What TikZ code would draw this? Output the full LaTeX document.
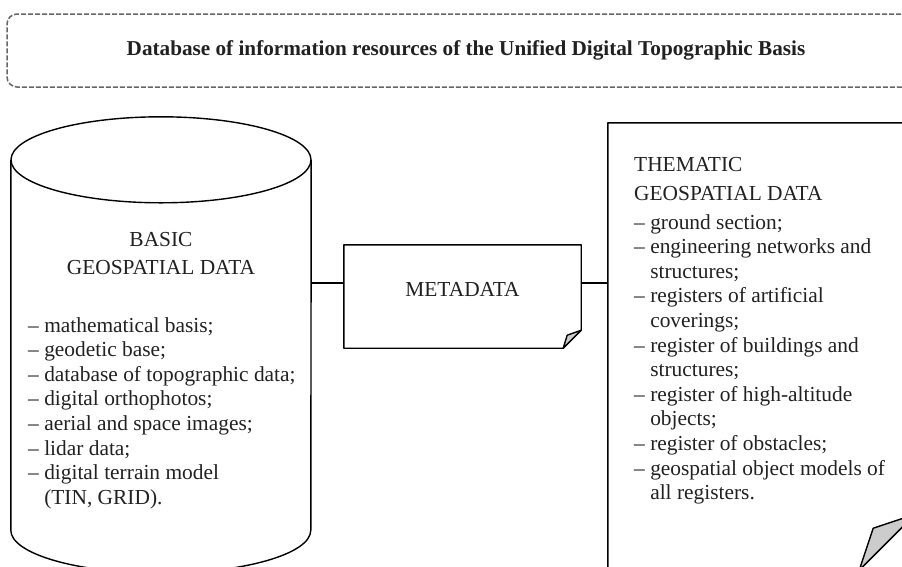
\documentclass[tikz,border=0pt]{standalone}
\usepackage{fontspec}
\setmainfont{Liberation Serif}

\definecolor{FoldColor}{rgb}{0.8,0.8,0.8}
\definecolor{InkColor}{rgb}{0.13,0.13,0.13}
\definecolor{FrameColor}{rgb}{0.4,0.4,0.4}
\tikzstyle{ts-text-base}=[text=InkColor,
                          inner sep=0pt,
                          font=\fontsize{21.4}{24.6}\selectfont
                         ]
\tikzstyle{store-head}=[ts-text-base,
                        font=\fontsize{21.4}{28.5}\selectfont]
\tikzstyle{store-list}=[ts-text-base,
                        align=left,
                        anchor=north west]
\tikzstyle{store-body}=[rectangle, inner sep=0pt]
\tikzstyle{link}=[line width=1.4pt, line join=round]
\tikzstyle{fold}=[link, fill=FoldColor]
\tikzstyle{title-frame}=[rectangle,
                         draw=FrameColor,
                         dash pattern=on 5pt off 2pt,
                         line width=1.5pt,
                         rounded corners=10pt,
                         text=InkColor,
                         font=\bfseries\fontsize{21.2}{24}\selectfont,
                         minimum width=918pt,
                         minimum height=73pt]

\newcommand{\itemcont}{\hphantom{– }}

\begin{document}
\begin{tikzpicture}[x=1pt, y=1pt]
\path[use as bounding box, clip] (0,0) rectangle (902,-566);

\node at (466,-50.5) (title) [title-frame] {Database of information resources of the Unified Digital Topographic Basis};

% basic data store (cylinder)
\node at (161,-345) (basic) [store-body, minimum width=300pt, minimum height=370pt] {};
\draw[link] (basic.north west) -- (basic.south west)
    arc[start angle=180, end angle=360, x radius=150, y radius=43] -- (basic.north east);
\draw[link, fill=white] (basic.north) ellipse [x radius=150, y radius=43];
\node at (161,-253.5) (basichead) [store-head, align=center] {BASIC\\GEOSPATIAL DATA};
\node at (28,-317) (basiclist) [store-list] {– mathematical basis;\\
– geodetic base;\\
– database of topographic data;\\
– digital orthophotos;\\
– aerial and space images;\\
– lidar data;\\
– digital terrain model\\
\itemcont(TIN, GRID).};

% metadata sheet
\node at (462.5,-296.5) (meta) [store-body, minimum width=237pt, minimum height=103pt] {};
\draw[link] (meta.north west) -- (meta.north east) -- ([yshift=18pt]meta.south east)
    -- ([xshift=-18pt]meta.south east) -- (meta.south west) -- cycle;
\draw[fold] ([yshift=18pt]meta.south east) -- ([xshift=-14pt, yshift=13pt]meta.south east)
    -- ([xshift=-18pt]meta.south east) -- cycle;
\node at (462.5,-289) (metalabel) [ts-text-base] {METADATA};

% thematic data sheet
\node at (761.5,-346.5) (thematic) [store-body, minimum width=307pt, minimum height=447pt] {};
\draw[link] (thematic.north west) -- (thematic.north east) -- ([yshift=56pt]thematic.south east)
    -- ([xshift=-56pt]thematic.south east) -- (thematic.south west) -- cycle;
\draw[fold] ([yshift=56pt]thematic.south east) -- ([xshift=-42pt, yshift=42pt]thematic.south east)
    -- ([xshift=-56pt]thematic.south east) -- cycle;
\node at (634,-157.5) (thematichead) [store-head, align=left, anchor=north west] {THEMATIC\\GEOSPATIAL DATA};
\node at (634,-214) (thematiclist) [store-list] {– ground section;\\
– engineering networks and\\
\itemcont structures;\\
– registers of artificial\\
\itemcont coverings;\\
– register of buildings and\\
\itemcont structures;\\
– register of high-altitude\\
\itemcont objects;\\
– register of obstacles;\\
– geospatial object models of\\
\itemcont all registers.};

\draw[link] ([yshift=13.5pt]meta.west) -- ([yshift=13.5pt]meta.west -| basic.east);
\draw[link] ([yshift=13.5pt]meta.east) -- ([yshift=13.5pt]meta.east -| thematic.west);
\end{tikzpicture}
\end{document}
